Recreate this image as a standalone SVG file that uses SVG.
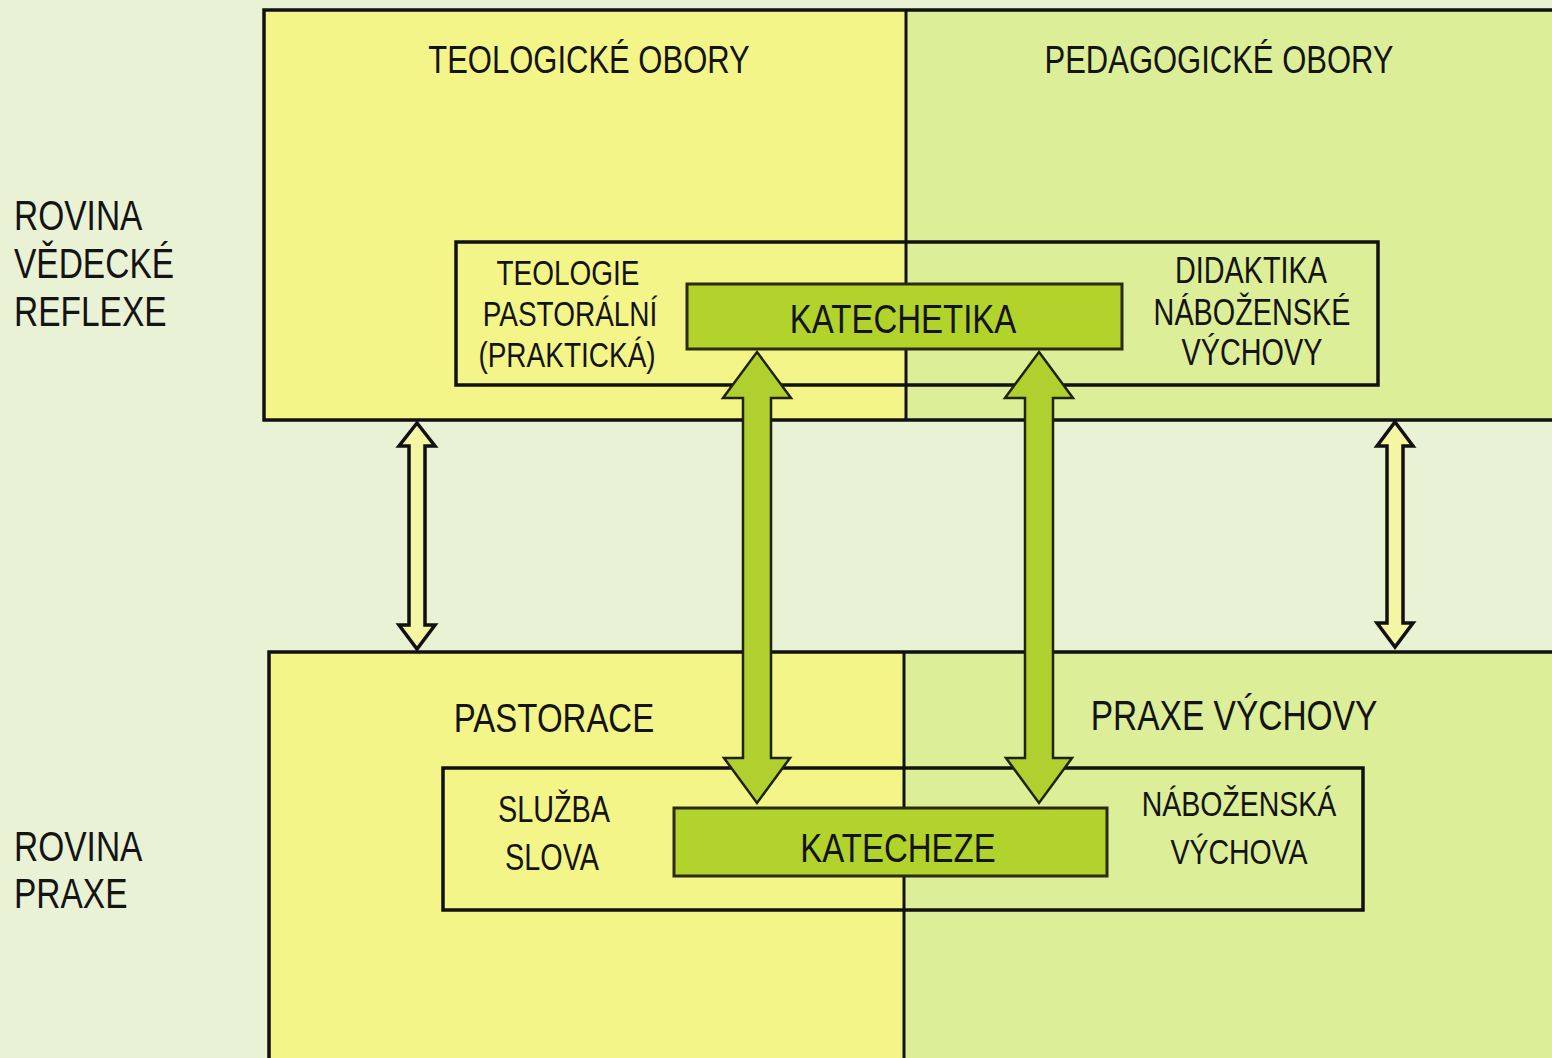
<svg xmlns="http://www.w3.org/2000/svg" width="1552" height="1058" viewBox="0 0 1552 1058">
<style>
.t{font-family:"Liberation Sans",Arial,sans-serif;fill:#141414;text-anchor:middle}
.l{font-family:"Liberation Sans",Arial,sans-serif;fill:#141414;text-anchor:start;font-size:33.5px}
.frame{stroke:#111;stroke-width:3.5}
.yel{fill:#f4f589}
.grn{fill:#dcee98}
.box{fill:none;stroke:#111;stroke-width:3.5}
.bar{fill:#b2d22c;stroke:#2a2a10;stroke-width:3}
.big{fill:#b0d030;stroke:#1e2308;stroke-width:2.5;stroke-linejoin:miter}
.small{fill:#f5f6a4;stroke:#111;stroke-width:3.5;stroke-linejoin:miter}
.div{stroke:#111;stroke-width:3}
</style>
<rect x="0" y="0" width="1552" height="1058" fill="#eaf2d5"/>

<g id="rovina-vedecke-reflexe">
<text class="l" transform="translate(14,230) scale(1,1.26)">ROVINA</text>
<text class="l" transform="translate(14,278) scale(1,1.26)">VĚDECKÉ</text>
<text class="l" transform="translate(14,326) scale(1,1.26)">REFLEXE</text>
</g>
<g id="rovina-praxe">
<text class="l" transform="translate(14,861) scale(1,1.26)">ROVINA</text>
<text class="l" transform="translate(14,908) scale(1,1.26)">PRAXE</text>
</g>

<g id="top-frame">
<rect class="yel" x="264" y="10" width="642" height="410"/>
<rect class="grn" x="906" y="10" width="660" height="410"/>
<rect class="frame" fill="none" x="264" y="10" width="1300" height="410"/>
<line class="div" x1="906" y1="10" x2="906" y2="420"/>
</g>
<g id="teologicke-obory">
<text class="t" font-size="31" transform="translate(589,73) scale(1,1.26)">TEOLOGICKÉ OBORY</text>
</g>
<g id="pedagogicke-obory">
<text class="t" font-size="31" transform="translate(1219,73) scale(1,1.26)">PEDAGOGICKÉ OBORY</text>
</g>

<g id="bottom-frame">
<rect class="yel" x="269" y="652" width="635" height="420"/>
<rect class="grn" x="904" y="652" width="660" height="420"/>
<rect class="frame" fill="none" x="269" y="652" width="1295" height="420"/>
<line class="div" x1="904" y1="652" x2="904" y2="1060"/>
</g>
<g id="pastorace">
<text class="t" font-size="33" transform="translate(554,732) scale(1,1.26)">PASTORACE</text>
</g>
<g id="praxe-vychovy">
<text class="t" font-size="33.5" transform="translate(1234,730) scale(1,1.26)">PRAXE VÝCHOVY</text>
</g>

<g id="top-inner">
<rect class="box" x="456" y="242" width="922" height="143"/>
<text class="t" font-size="28" transform="translate(568,285) scale(1,1.26)">TEOLOGIE</text>
<text class="t" font-size="28" transform="translate(570,326) scale(1,1.26)">PASTORÁLNÍ</text>
<text class="t" font-size="28" transform="translate(567,367) scale(1,1.26)">(PRAKTICKÁ)</text>
<text class="t" font-size="28.8" transform="translate(1251,283) scale(1,1.26)">DIDAKTIKA</text>
<text class="t" font-size="28.8" transform="translate(1252,325) scale(1,1.26)">NÁBOŽENSKÉ</text>
<text class="t" font-size="28.8" transform="translate(1252,365) scale(1,1.26)">VÝCHOVY</text>
</g>
<g id="katechetika">
<rect class="bar" x="687" y="284" width="435" height="65"/>
<text class="t" font-size="33" transform="translate(903,333) scale(1,1.26)">KATECHETIKA</text>
</g>

<g id="bottom-inner">
<rect class="box" x="443" y="768" width="920" height="142"/>
<text class="t" font-size="28.8" transform="translate(554,822) scale(1,1.26)">SLUŽBA</text>
<text class="t" font-size="28.8" transform="translate(552,870) scale(1,1.26)">SLOVA</text>
<text class="t" font-size="28.5" transform="translate(1239,816) scale(1,1.26)">NÁBOŽENSKÁ</text>
<text class="t" font-size="28.5" transform="translate(1239,864) scale(1,1.26)">VÝCHOVA</text>
</g>
<g id="katecheze">
<rect class="bar" x="674" y="808" width="433" height="68"/>
<text class="t" font-size="33" transform="translate(898,862) scale(1,1.26)">KATECHEZE</text>
</g>

<g id="connectors">
<path class="big" d="M757,352 L791,398 L771,398 L771,758 L790,758 L757,803 L724,758 L743,758 L743,398 L723,398 Z"/>
<path class="big" d="M1039,352 L1073,398 L1053,398 L1053,758 L1072,758 L1039,803 L1006,758 L1025,758 L1025,398 L1005,398 Z"/>
<path class="small" d="M417,423 L435,446 L425,446 L425,625 L435,625 L417,649 L399,625 L409,625 L409,446 L399,446 Z"/>
<path class="small" d="M1395,422 L1413,446 L1403,446 L1403,623 L1413,623 L1395,647 L1377,623 L1387,623 L1387,446 L1377,446 Z"/>
</g>
</svg>
